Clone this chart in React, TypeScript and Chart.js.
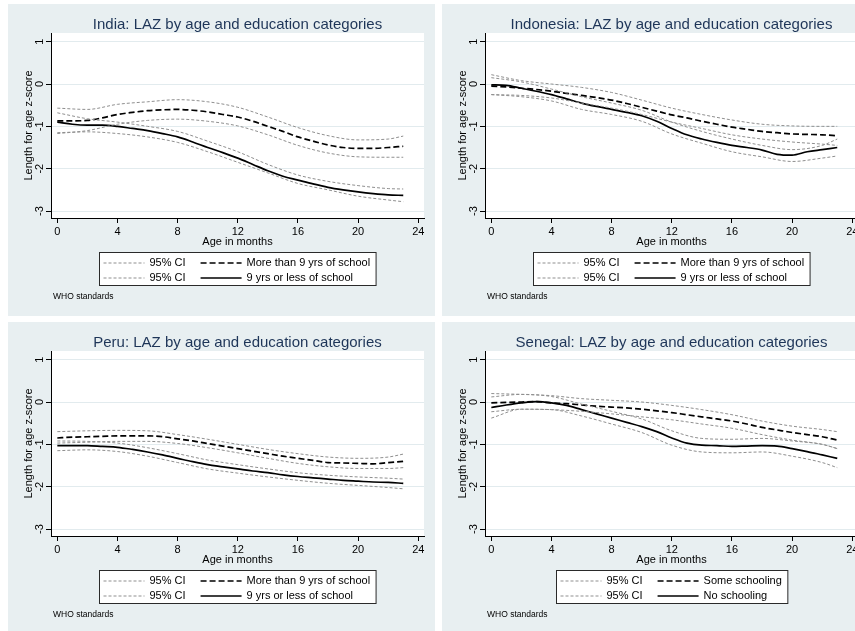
import React, { useEffect, useRef } from "react";
import { Chart, registerables } from "chart.js";

Chart.register(...registerables);

// ---------- data ----------
const ageMonths = [0, 1, 2, 3, 4, 5, 6, 7, 8, 9, 10, 11, 12, 13, 14, 15, 16, 17, 18, 19, 20, 21, 22, 23];
const ciMonths = [0, 2, 4, 6, 8, 10, 12, 14, 16, 18, 20, 22, 23];
const xTickValues = [0, 4, 8, 12, 16, 20, 24];
const yTickValues = [-3, -2, -1, 0, 1];

// India
const indiaMore = [-0.87, -0.87, -0.86, -0.8, -0.72, -0.67, -0.63, -0.61, -0.6, -0.62, -0.66, -0.72, -0.78, -0.88, -1.0, -1.12, -1.25, -1.35, -1.44, -1.5, -1.52, -1.52, -1.5, -1.47];
const indiaLess = [-0.9, -0.95, -0.97, -0.97, -1.0, -1.05, -1.1, -1.17, -1.25, -1.37, -1.5, -1.62, -1.75, -1.9, -2.05, -2.18, -2.27, -2.36, -2.44, -2.5, -2.55, -2.59, -2.62, -2.63];
const indiaMoreUpper = [-0.57, -0.6, -0.48, -0.42, -0.37, -0.42, -0.55, -0.78, -1.03, -1.22, -1.32, -1.3, -1.23];
const indiaMoreLower = [-1.17, -1.1, -0.95, -0.86, -0.83, -0.88, -0.99, -1.2, -1.45, -1.63, -1.72, -1.73, -1.73];
const indiaLessUpper = [-0.68, -0.82, -0.9, -1.0, -1.12, -1.35, -1.6, -1.9, -2.15, -2.3, -2.4, -2.47, -2.48];
const indiaLessLower = [-1.15, -1.13, -1.17, -1.25, -1.38, -1.6, -1.85, -2.1, -2.35, -2.5, -2.65, -2.74, -2.78];

// Indonesia
const indonesiaMore = [-0.05, -0.07, -0.1, -0.13, -0.17, -0.22, -0.27, -0.32, -0.38, -0.46, -0.55, -0.64, -0.73, -0.8, -0.88, -0.95, -1.02, -1.07, -1.12, -1.15, -1.18, -1.19, -1.2, -1.22];
const indonesiaLess = [-0.02, -0.03, -0.1, -0.17, -0.25, -0.35, -0.45, -0.53, -0.6, -0.67, -0.75, -0.88, -1.05, -1.2, -1.3, -1.38, -1.45, -1.5, -1.56, -1.66, -1.68, -1.6, -1.55, -1.5];
const indonesiaMoreUpper = [0.22, 0.08, 0.0, -0.08, -0.2, -0.38, -0.57, -0.72, -0.85, -0.95, -0.99, -1.0, -1.0];
const indonesiaMoreLower = [-0.25, -0.27, -0.33, -0.45, -0.57, -0.72, -0.9, -1.05, -1.2, -1.3, -1.37, -1.42, -1.45];
const indonesiaLessUpper = [0.15, 0.05, -0.12, -0.3, -0.45, -0.62, -0.9, -1.12, -1.3, -1.45, -1.55, -1.45, -1.3];
const indonesiaLessLower = [-0.25, -0.3, -0.4, -0.6, -0.72, -0.88, -1.18, -1.4, -1.6, -1.72, -1.83, -1.75, -1.7];

// Peru
const peruMore = [-0.85, -0.83, -0.82, -0.81, -0.8, -0.8, -0.8, -0.82, -0.87, -0.92, -0.98, -1.04, -1.1, -1.16, -1.22, -1.28, -1.33, -1.38, -1.43, -1.44, -1.45, -1.46, -1.43, -1.4];
const peruLess = [-1.03, -1.03, -1.03, -1.05, -1.07, -1.12, -1.18, -1.25, -1.33, -1.41, -1.48, -1.53, -1.58, -1.63, -1.67, -1.72, -1.76, -1.79, -1.82, -1.85, -1.87, -1.89, -1.9, -1.92];
const peruMoreUpper = [-0.7, -0.68, -0.67, -0.68, -0.77, -0.88, -1.0, -1.12, -1.22, -1.3, -1.33, -1.3, -1.23];
const peruMoreLower = [-0.97, -0.95, -0.93, -0.93, -0.98, -1.08, -1.2, -1.33, -1.45, -1.53, -1.57, -1.57, -1.55];
const peruLessUpper = [-0.92, -0.93, -0.97, -1.08, -1.22, -1.37, -1.48, -1.58, -1.67, -1.73, -1.77, -1.8, -1.82];
const peruLessLower = [-1.15, -1.13, -1.17, -1.28, -1.43, -1.58, -1.68, -1.77, -1.85, -1.92, -1.97, -2.02, -2.05];

// Senegal
const senegalSome = [-0.02, -0.01, 0.0, 0.01, -0.02, -0.04, -0.07, -0.1, -0.12, -0.14, -0.17, -0.21, -0.25, -0.3, -0.35, -0.4, -0.45, -0.52, -0.6, -0.66, -0.72, -0.77, -0.82, -0.9];
const senegalNone = [-0.13, -0.07, -0.02, 0.01, -0.02, -0.08, -0.18, -0.28, -0.38, -0.48, -0.58, -0.7, -0.85, -0.97, -1.02, -1.03, -1.05, -1.04, -1.03, -1.04, -1.1, -1.17, -1.25, -1.33];
const senegalSomeUpper = [0.2, 0.18, 0.15, 0.08, 0.04, 0.0, -0.08, -0.18, -0.3, -0.45, -0.57, -0.65, -0.7];
const senegalSomeLower = [-0.23, -0.17, -0.18, -0.22, -0.28, -0.35, -0.42, -0.52, -0.62, -0.77, -0.9, -1.0, -1.1];
const senegalNoneUpper = [0.12, 0.18, 0.13, -0.05, -0.22, -0.4, -0.68, -0.86, -0.88, -0.86, -0.92, -1.0, -1.1];
const senegalNoneLower = [-0.38, -0.17, -0.18, -0.33, -0.52, -0.72, -1.02, -1.18, -1.2, -1.18, -1.28, -1.43, -1.55];

// ---------- styling ----------
const FONT = '"Liberation Sans", Arial, Helvetica, sans-serif';
const W = 427;
const H = 312;
const BG = "rgb(232,239,241)";
const GRID = "rgb(226,235,238)";
const TITLE_COLOR = "#1e3558";
const CI_COLOR = "#8f8f8f";
const CI_DASH = [3, 2];
const MEAN_DASH = [6, 3];

type PanelCfg = {
  title: string;
  labelA: string;
  labelB: string;
  meanA: number[];
  meanB: number[];
  upperA: number[];
  lowerA: number[];
  upperB: number[];
  lowerB: number[];
};

const panels: { cfg: PanelCfg; left: number; top: number }[] = [
  {
    left: 8, top: 4,
    cfg: {
      title: "India: LAZ by age and education categories",
      labelA: "More than 9 yrs of school", labelB: "9 yrs or less of school",
      meanA: indiaMore, meanB: indiaLess,
      upperA: indiaMoreUpper, lowerA: indiaMoreLower, upperB: indiaLessUpper, lowerB: indiaLessLower,
    },
  },
  {
    left: 442, top: 4,
    cfg: {
      title: "Indonesia: LAZ by age and education categories",
      labelA: "More than 9 yrs of school", labelB: "9 yrs or less of school",
      meanA: indonesiaMore, meanB: indonesiaLess,
      upperA: indonesiaMoreUpper, lowerA: indonesiaMoreLower, upperB: indonesiaLessUpper, lowerB: indonesiaLessLower,
    },
  },
  {
    left: 8, top: 322,
    cfg: {
      title: "Peru: LAZ by age and education categories",
      labelA: "More than 9 yrs of school", labelB: "9 yrs or less of school",
      meanA: peruMore, meanB: peruLess,
      upperA: peruMoreUpper, lowerA: peruMoreLower, upperB: peruLessUpper, lowerB: peruLessLower,
    },
  },
  {
    left: 442, top: 322,
    cfg: {
      title: "Senegal: LAZ by age and education categories",
      labelA: "Some schooling", labelB: "No schooling",
      meanA: senegalSome, meanB: senegalNone,
      upperA: senegalSomeUpper, lowerA: senegalSomeLower, upperB: senegalNoneUpper, lowerB: senegalNoneLower,
    },
  },
];

const toPts = (xs: number[], ys: number[]) => xs.map((x, i) => ({ x, y: ys[i] }));

function ciDataset(ys: number[]) {
  return {
    data: toPts(ciMonths, ys),
    borderColor: CI_COLOR,
    borderWidth: 1,
    borderDash: CI_DASH,
    pointRadius: 0,
    fill: false,
  };
}

function drawSample(ctx: CanvasRenderingContext2D, x1: number, x2: number, y: number, color: string, width: number, dash: number[]) {
  ctx.save();
  ctx.beginPath();
  ctx.strokeStyle = color;
  ctx.lineWidth = width;
  ctx.setLineDash(dash);
  ctx.moveTo(x1, y);
  ctx.lineTo(x2, y);
  ctx.stroke();
  ctx.restore();
}

function makeDecorPlugin(cfg: PanelCfg) {
  return {
    id: "stataDecor",
    beforeDraw(chart: any) {
      const { ctx, chartArea: a, width, height } = chart;
      ctx.save();
      ctx.fillStyle = BG;
      ctx.fillRect(0, 0, width, height);
      ctx.fillStyle = "#ffffff";
      ctx.fillRect(a.left, a.top, a.right - a.left, a.bottom - a.top);
      ctx.restore();
    },
    afterDraw(chart: any) {
      const { ctx, chartArea: a } = chart;
      const cx = (a.left + a.right) / 2;
      ctx.save();
      // title
      ctx.font = `15px ${FONT}`;
      ctx.fillStyle = TITLE_COLOR;
      ctx.textAlign = "center";
      ctx.textBaseline = "middle";
      ctx.fillText(cfg.title, cx, a.top - 8);

      // legend
      ctx.font = `11px ${FONT}`;
      const ciText = "95% CI";
      const ciW = ctx.measureText(ciText).width;
      const bW = Math.max(ctx.measureText(cfg.labelA).width, ctx.measureText(cfg.labelB).width);
      const padL = 4, lineLen = 41, gap = 5, colGap = 15, padR = 6;
      const boxW = padL + lineLen + gap + ciW + colGap + lineLen + gap + bW + padR;
      const boxH = 33;
      const x0 = Math.round(cx - boxW / 2) + 0.5;
      const y0 = Math.round(a.bottom + 34) + 0.5;
      ctx.fillStyle = "#ffffff";
      ctx.fillRect(x0, y0, boxW, boxH);
      ctx.strokeStyle = "#2a2a2a";
      ctx.lineWidth = 1;
      ctx.setLineDash([]);
      ctx.strokeRect(x0, y0, boxW, boxH);
      const rows = [y0 + 10.5, y0 + 25.5];
      const labels = [cfg.labelA, cfg.labelB];
      ctx.textAlign = "left";
      ctx.textBaseline = "middle";
      rows.forEach((ry, i) => {
        const lx1 = x0 + padL;
        drawSample(ctx, lx1, lx1 + lineLen, ry, CI_COLOR, 1, CI_DASH);
        ctx.fillStyle = "#000";
        ctx.fillText(ciText, lx1 + lineLen + gap, ry);
        const lx2 = lx1 + lineLen + gap + ciW + colGap;
        drawSample(ctx, lx2, lx2 + lineLen, ry, "#000", 1.7, i === 0 ? MEAN_DASH : []);
        ctx.fillStyle = "#000";
        ctx.fillText(labels[i], lx2 + lineLen + gap, ry);
      });

      // note
      ctx.font = `8.5px ${FONT}`;
      ctx.fillStyle = "#000";
      ctx.textAlign = "left";
      ctx.fillText("WHO standards", a.left + 2, a.bottom + 79);
      ctx.restore();
    },
  };
}

function Panel({ cfg, left, top }: { cfg: PanelCfg; left: number; top: number }) {
  const ref = useRef<HTMLCanvasElement>(null);
  useEffect(() => {
    const canvas = ref.current;
    if (!canvas) return;
    const axisFont = { size: 11, family: FONT };
    const chart = new Chart(canvas, {
      type: "line",
      data: {
        datasets: [
          ciDataset(cfg.upperA),
          ciDataset(cfg.lowerA),
          ciDataset(cfg.upperB),
          ciDataset(cfg.lowerB),
          {
            data: toPts(ageMonths, cfg.meanA),
            borderColor: "#000",
            borderWidth: 1.7,
            borderDash: MEAN_DASH,
            pointRadius: 0,
            fill: false,
          },
          {
            data: toPts(ageMonths, cfg.meanB),
            borderColor: "#000",
            borderWidth: 1.7,
            pointRadius: 0,
            fill: false,
          },
        ] as any,
      },
      options: {
        animation: false,
        responsive: false,
        devicePixelRatio: 1,
        events: [],
        layout: { padding: { left: 0, top: 29, right: 11, bottom: 67 } },
        elements: { line: { tension: 0.4, cubicInterpolationMode: "monotone" }, point: { radius: 0 } },
        plugins: { legend: { display: false }, tooltip: { enabled: false }, title: { display: false } },
        scales: {
          x: {
            type: "linear",
            position: "bottom",
            min: -0.42,
            max: 24.38,
            bounds: "data",
            afterBuildTicks: (s: any) => {
              s.ticks = xTickValues.map((v) => ({ value: v }));
            },
            afterFit: (s: any) => {
              s.height = 31;
            },
            ticks: { font: axisFont, color: "#000", padding: 2, minRotation: 0, maxRotation: 0, autoSkip: false },
            grid: { drawOnChartArea: false, drawTicks: true, tickLength: 5, color: "#000", tickWidth: 1 },
            border: { display: true, color: "#000", width: 1 },
            title: { display: true, text: "Age in months", font: axisFont, color: "#000", padding: { top: 0, bottom: 0 } },
          },
          y: {
            type: "linear",
            position: "left",
            min: -3.165,
            max: 1.205,
            bounds: "data",
            afterBuildTicks: (s: any) => {
              s.ticks = yTickValues.map((v) => ({ value: v }));
            },
            afterFit: (s: any) => {
              s.width = 43;
            },
            ticks: { font: axisFont, color: "#000", padding: 1, minRotation: 90, maxRotation: 90, crossAlign: "center", autoSkip: false },
            grid: { drawOnChartArea: true, color: GRID, tickColor: "#000", tickLength: 5, lineWidth: 1 },
            border: { display: true, color: "#000", width: 1 },
            title: { display: true, text: "Length for age z-score", font: axisFont, color: "#000", padding: { top: 14, bottom: 0 } },
          },
        },
      } as any,
      plugins: [makeDecorPlugin(cfg)],
    });
    return () => chart.destroy();
  }, [cfg]);
  return (
    <div style={{ position: "absolute", left, top, width: W, height: H }}>
      <canvas ref={ref} width={W} height={H} style={{ display: "block", width: W, height: H }} />
    </div>
  );
}

export default function App() {
  return (
    <div
      style={{
        position: "absolute",
        left: 0,
        top: 0,
        width: 855,
        height: 631,
        overflow: "hidden",
        background: "#ffffff",
      }}
    >
      {panels.map((p, i) => (
        <Panel key={i} cfg={p.cfg} left={p.left} top={p.top} />
      ))}
    </div>
  );
}
